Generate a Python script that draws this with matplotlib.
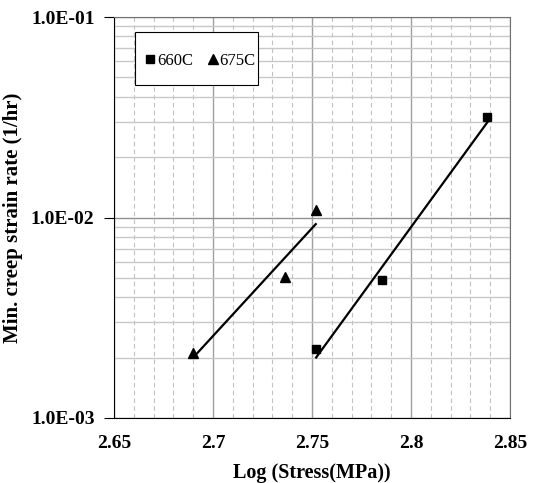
import numpy as np
import matplotlib
matplotlib.use("Agg")
import matplotlib.pyplot as plt
from matplotlib.ticker import FuncFormatter, LogLocator, MultipleLocator
from matplotlib.lines import Line2D
from matplotlib.patches import Rectangle

# data
x_660 = [2.7521, 2.7856, 2.8386]
y_660 = [0.0022, 0.0049, 0.0317]
x_675 = [2.6901, 2.7363, 2.7519]
y_675 = [0.00212, 0.00507, 0.0109]
labels = ["660C", "675C"]

plt.rcParams['font.family'] = ['Liberation Serif', 'DejaVu Serif']

fig = plt.figure(figsize=(5.36, 4.83), dpi=100)
ax = fig.add_axes([114/536, 1 - 418/483, 396/536, 401/483])


def trend(xs, ys):
    # exponential trendline (straight on log axis)
    b, a = np.polyfit(xs, np.log10(ys), 1)
    xx = np.array([min(xs), max(xs)])
    return xx, 10 ** (a + b * xx)


for xs, ys, m, ms in [(x_660, y_660, 's', 6), (x_675, y_675, '^', 7)]:
    ax.plot(xs, ys, ls='none', marker=m, ms=ms, color='black', zorder=4)
    tx, ty = trend(xs, ys)
    ax.plot(tx, ty, color='black', lw=1.6, zorder=3)

ax.set_yscale('log')
ax.set_xlim(2.65, 2.85)
ax.set_ylim(1e-3, 1e-1)

ax.xaxis.set_major_locator(MultipleLocator(0.05))
ax.xaxis.set_minor_locator(MultipleLocator(0.01))
ax.yaxis.set_major_locator(LogLocator(base=10))
ax.yaxis.set_minor_locator(LogLocator(base=10, subs=np.arange(2, 10)))
ax.xaxis.set_major_formatter(FuncFormatter(lambda v, p: f"{v:g}"))
ax.yaxis.set_major_formatter(FuncFormatter(lambda v, p: f"{v:.1E}"))
ax.yaxis.set_minor_formatter(FuncFormatter(lambda v, p: ""))

ax.grid(which='major', axis='x', color='#a0a0a0', lw=1.0, ls='-')
ax.grid(which='minor', axis='x', color='#c0c0c0', lw=0.8, ls=(0, (4, 3)))
ax.grid(which='major', axis='y', color='#909090', lw=1.0, ls='-')
ax.grid(which='minor', axis='y', color='#c8c8c8', lw=1.0, ls='-')
ax.set_axisbelow(True)

ax.tick_params(axis='x', which='both', length=0, pad=12)
ax.tick_params(axis='y', which='major', length=7, direction='out', pad=7)
ax.tick_params(axis='y', which='minor', length=0)
for lab in ax.get_xticklabels() + ax.get_yticklabels():
    lab.set_fontweight('bold')
    lab.set_fontsize(14)

ax.spines['top'].set_color('#707070')
ax.spines['right'].set_color('#707070')
for s in ['left', 'bottom']:
    ax.spines[s].set_color('black')

ax.set_xlabel("Log (Stress(MPa))", fontsize=14.5, fontweight='bold', labelpad=8)
ax.set_ylabel("Min. creep strain rate (1/hr)", fontsize=15, fontweight='bold', labelpad=6)

# legend box drawn separately so its padding can match the original
ax.add_patch(Rectangle((0.053, 0.830), 0.311, 0.133, transform=ax.transAxes,
                       facecolor='white', edgecolor='black', lw=0.8, zorder=5))
handles = [Line2D([], [], ls='none', marker='s', ms=5.5, color='black'),
           Line2D([], [], ls='none', marker='^', ms=6.5, color='black')]
leg = ax.legend(handles, labels, ncol=2, loc='center', bbox_to_anchor=(0.218, 0.891),
                fontsize=12, frameon=False, borderpad=0,
                handlelength=0.6, handletextpad=0.1, columnspacing=0.9,
                borderaxespad=0)
leg.set_zorder(6)

fig.savefig("out.png", dpi=100)
